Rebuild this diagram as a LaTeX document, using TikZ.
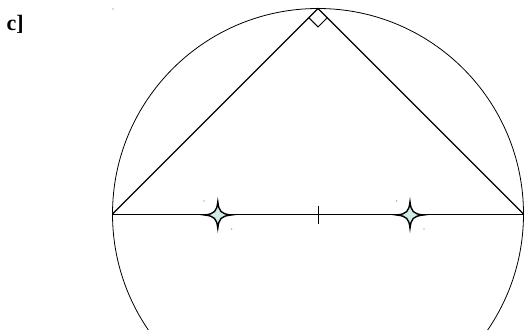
\documentclass[tikz,border=0pt]{standalone}
\usepackage{fontspec}
\setmainfont{Liberation Serif}
\usetikzlibrary{calc}
\definecolor{starfill}{HTML}{D2ECEA}
\begin{document}
\begin{tikzpicture}[x=1pt,y=-1pt,
  thinline/.style={line width=0.8pt},
  legline/.style={line width=1.1pt},
  speck/.style={fill=black!60},
  starshape/.style={fill=starfill,draw=black,line width=1.4pt,line join=miter}]
\useasboundingbox (0,0) rectangle (524,329);
\begin{scope}
\clip (0,0) rectangle (524,329);
\coordinate (O) at (318,214);
\draw[thinline] (O) circle (205.5);
\end{scope}
\coordinate (A) at (112.5,214);
\coordinate (B) at (523.5,214);
\coordinate (C) at (318,8.5);
\node[font={\fontsize{22}{26}\selectfont\bfseries}, anchor=base west, inner sep=0pt] (lab) at (6.5,30.7) {c]};
\draw[legline] (A) -- (C) -- (B);
\draw[line width=0.9pt] (A) -- (B);
% right-angle marker
\coordinate (m1) at ($(C)!13pt!(A)$);
\coordinate (m3) at ($(C)!13pt!(B)$);
\coordinate (m2) at ($(m1)+(m3)-(C)$);
\draw[line width=0.9pt] (m1) -- (m2) -- (m3);
% midpoint tick
\coordinate (t1) at (318,205.5);
\coordinate (t2) at (318,224);
\draw[line width=0.9pt] (t1) -- (t2);
% stars
\foreach \cx in {217.8, 410}{
  \draw[starshape] (\cx,201.8) .. controls (\cx+1.1,211.3) and (\cx+3.2,213.9) .. (\cx+13.3,215)
     .. controls (\cx+3.2,216.1) and (\cx+1.1,218.7) .. (\cx,228.2)
     .. controls (\cx-1.1,218.7) and (\cx-3.2,216.1) .. (\cx-13.3,215)
     .. controls (\cx-3.2,213.9) and (\cx-1.1,211.3) .. cycle;
}
% tiny specks
\foreach \p in {(113,9),(204,201),(231.7,229),(396.7,201),(424,229)}
  \fill[speck] \p circle (0.55);
\end{tikzpicture}
\end{document}
